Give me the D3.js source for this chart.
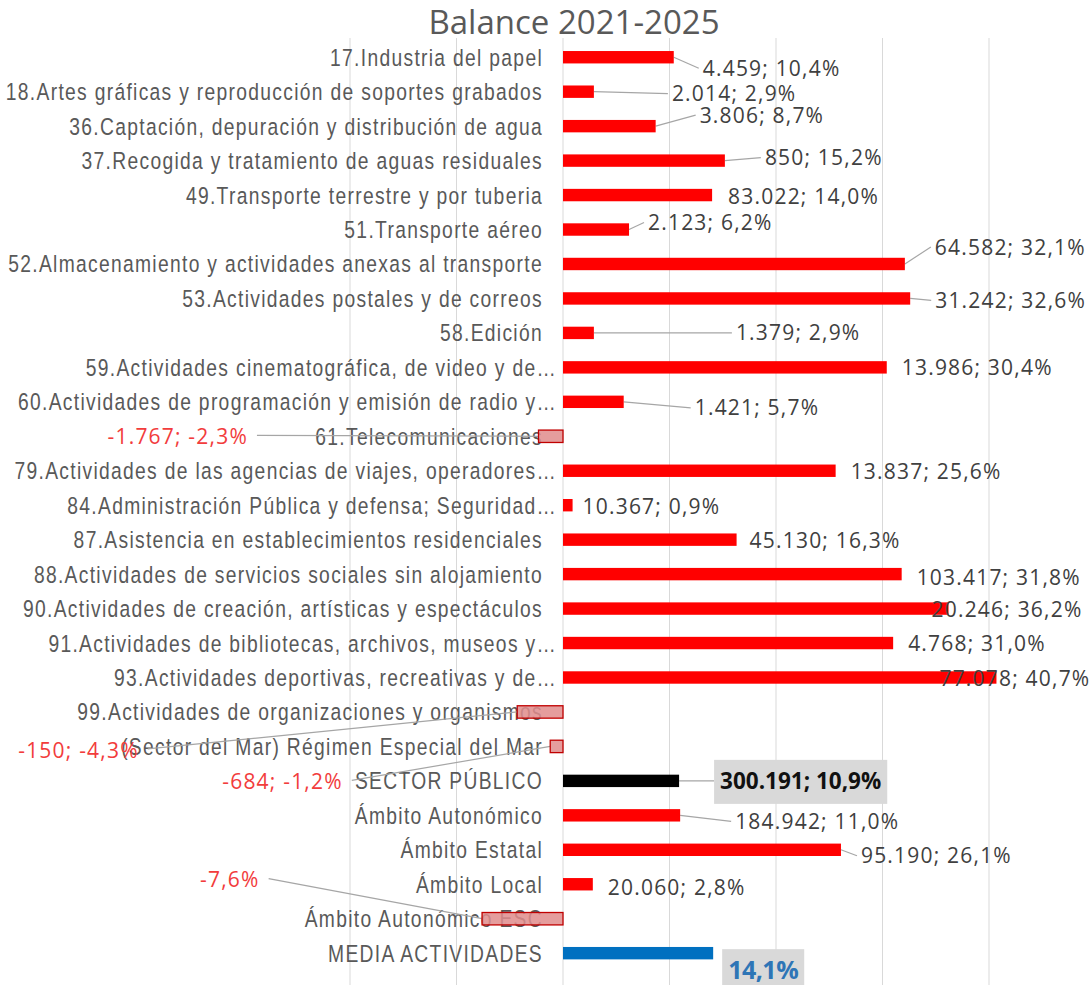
<!DOCTYPE html>
<html>
<head>
<meta charset="utf-8">
<script src="https://cdn.jsdelivr.net/npm/d3@7"></script>
<style>
  body { margin: 0; background: #fff; }
  svg { display: block; }
</style>
</head>
<body>
<div id="chart"></div>
<script>

const categories = [
    "17.Industria del papel",
    "18.Artes gráficas y reproducción de soportes grabados",
    "36.Captación, depuración y distribución de agua",
    "37.Recogida y tratamiento de aguas residuales",
    "49.Transporte terrestre y por tuberia",
    "51.Transporte aéreo",
    "52.Almacenamiento y actividades anexas al transporte",
    "53.Actividades postales y de correos",
    "58.Edición",
    "59.Actividades cinematográfica, de video y de…",
    "60.Actividades de programación y emisión de radio y…",
    "61.Telecomunicaciones",
    "79.Actividades de las agencias de viajes, operadores…",
    "84.Administración Pública y defensa; Seguridad…",
    "87.Asistencia en establecimientos residenciales",
    "88.Actividades de servicios sociales sin alojamiento",
    "90.Actividades de creación, artísticas y espectáculos",
    "91.Actividades de bibliotecas, archivos, museos y…",
    "93.Actividades deportivas, recreativas y de…",
    "99.Actividades de organizaciones y organismos",
    "(Sector del Mar) Régimen Especial del Mar",
    "SECTOR PÚBLICO",
    "Ámbito Autonómico",
    "Ámbito Estatal",
    "Ámbito Local",
    "Ámbito Autonómico ESC",
    "MEDIA ACTIVIDADES"
]

// balance 2021-2025, %
const pct = [10.4, 2.9, 8.7, 15.2, 14.0, 6.2, 32.1, 32.6, 2.9, 30.4, 5.7, -2.3, 25.6, 0.9,
    16.3, 31.8, 36.2, 31.0, 40.7, -4.3, -1.2, 10.9, 11.0, 26.1, 2.8, -7.6, 14.1]

// balance 2021-2025, personas
const counts = [4459, 2014, 3806, 850, 83022, 2123, 64582, 31242, 1379, 13986, 1421, -1767, 13837,
    10367, 45130, 103417, 20246, 4768, 77078, -150, -684, 300191, 184942, 95190, 20060, null, null]

const xTicks = [-20, -10, 0, 10, 20, 30, 40]

// where the data labels were dragged to (px from bar end, px from row centre)
const labelOffsets = [
    [29, 11], [78, 2], [44, -11], [40, -3], [16, 1], [19, -7], [30, -17], [25, 2], [142, 0],
    [15, 0], [71, 6], [-431, 0], [15, 1], [10, 1], [13, 1], [15, 3], [-17, 1], [15, 0],
    [-57, 1], [-499, 38], [-328, 35], [41, 0], [55, 6], [20, 6], [15, 3], [-282, -39], [15, 17]
]


const data = categories.map((d, i) => ({ cat: d, pct: pct[i], count: counts[i], off: labelOffsets[i], i }))

const width = 1090
const height = 985
const plot = { top: 40, bottom: 970.4 }

const locale = d3.formatLocale({ decimal: ",", thousands: ".", grouping: [3], currency: ["", "€"], minus: "-" })
const fmtCount = locale.format(",d")
const fmtPct = locale.format(",.1f")

const labelText = d => (d.count == null ? "" : fmtCount(d.count) + "; ") + fmtPct(d.pct) + "%"

// no narrow font installed: squeeze Liberation Sans the way Arial Narrow does
const catFont = "'Liberation Sans', Arial, sans-serif"
const narrow = 0.82
const numFont = "'Open Sans', 'Noto Sans', sans-serif"

const svg = d3.select("#chart")
    .append("svg")
    .attr("width", width)
    .attr("height", height)

const x = d3.scaleLinear()
    .domain([-20, 50])
    .range([350, 350 + 70 * 10.65])

const y = d3.scaleBand()
    .domain(categories)
    .range([plot.top, plot.bottom])
    .paddingInner(0.64)
    .paddingOuter(0.32)

const yc = d => y(d.cat) + y.bandwidth() / 2

const isSector = d => d.cat == "SECTOR PÚBLICO"
const isMedia = d => d.cat == "MEDIA ACTIVIDADES"

const barColor = d => {
    if (isSector(d)) return "#000000"
    if (isMedia(d)) return "#0070c0"
    if (d.pct < 0) return "#e08c8c"
    return "#ff0000"
}


// gridlines
svg.append("g")
    .selectAll("line")
    .data(xTicks)
    .join("line")
    .attr("x1", d => x(d))
    .attr("x2", d => x(d))
    .attr("y1", 38)
    .attr("y2", height)
    .attr("stroke", "#d9d9d9")
    .attr("stroke-width", 1)

// title
svg.append("text")
    .attr("x", 574)
    .attr("y", 34)
    .attr("text-anchor", "middle")
    .attr("font-family", numFont)
    .attr("font-size", 33)
    .attr("fill", "#595959")
    .text("Balance 2021-2025")

// category labels (next to the axis); truncated ones spill their "…" towards the bar
svg.append("g")
    .selectAll("text")
    .data(data)
    .join("text")
    .attr("transform", d => `translate(${x(0) - (d.cat.endsWith("…") ? 6 : 20)},${yc(d)}) scale(${narrow},1)`)
    .attr("dy", "0.36em")
    .attr("text-anchor", "end")
    .attr("font-family", catFont)
    .attr("font-size", 23.5)
    .attr("letter-spacing", 1.6)
    .attr("fill", "#595959")
    .text(d => d.cat)

// data labels, measured first so leaders can meet them
const labels = svg.append("g")
    .selectAll("text")
    .data(data)
    .join("text")
    .attr("x", d => x(d.pct) + d.off[0])
    .attr("y", d => yc(d) + d.off[1])
    .attr("dy", "0.36em")
    .attr("font-family", numFont)
    .attr("font-size", d => isMedia(d) ? 25 : isSector(d) ? 22.5 : 21)
    .attr("font-weight", d => isMedia(d) || isSector(d) ? "bold" : "normal")
    .attr("letter-spacing", d => isMedia(d) ? -0.5 : isSector(d) ? 0 : 1.2)
    .attr("fill", d => {
        if (isMedia(d)) return "#2e75b6"
        if (isSector(d)) return "#111111"
        return d.pct < 0 ? "#f23c3c" : "#404040"
    })
    .text(labelText)

labels.each(function(d) { d.tw = this.getComputedTextLength() })

// leader lines
const leaders = data.filter(d => d.pct < 0 || d.off[0] > 17)

svg.insert("g", "g:last-of-type")
    .selectAll("line")
    .data(leaders)
    .join("line")
    .attr("x1", d => x(d.pct))
    .attr("y1", yc)
    .attr("x2", d => d.pct < 0 ? x(d.pct) + d.off[0] + d.tw + 9 : x(d.pct) + d.off[0] - (isSector(d) ? 6 : 4))
    .attr("y2", d => yc(d) + d.off[1] + (d.pct < 0 ? -1 : 0))
    .attr("stroke", "#a6a6a6")
    .attr("stroke-width", 1.2)

// grey boxes behind the two highlighted labels
const boxed = data.filter(d => isSector(d) || isMedia(d))

svg.insert("g", "g:last-of-type")
    .selectAll("rect")
    .data(boxed)
    .join("rect")
    .attr("x", d => x(d.pct) + d.off[0] - 6)
    .attr("y", d => yc(d) + d.off[1] - 21)
    .attr("width", d => d.tw + 12)
    .attr("height", 44)
    .attr("fill", "#d9d9d9")

// bars
svg.insert("g", "g:last-of-type")
    .selectAll("rect")
    .data(data)
    .join("rect")
    .attr("x", d => x(Math.min(0, d.pct)))
    .attr("y", d => y(d.cat))
    .attr("width", d => Math.abs(x(d.pct) - x(0)))
    .attr("height", y.bandwidth())
    .attr("fill", barColor)
    .attr("fill-opacity", d => d.pct < 0 ? 0.85 : 1)
    .attr("stroke", d => d.pct < 0 ? "#c00000" : "none")
    .attr("stroke-width", 1.3)

</script>
</body>
</html>
